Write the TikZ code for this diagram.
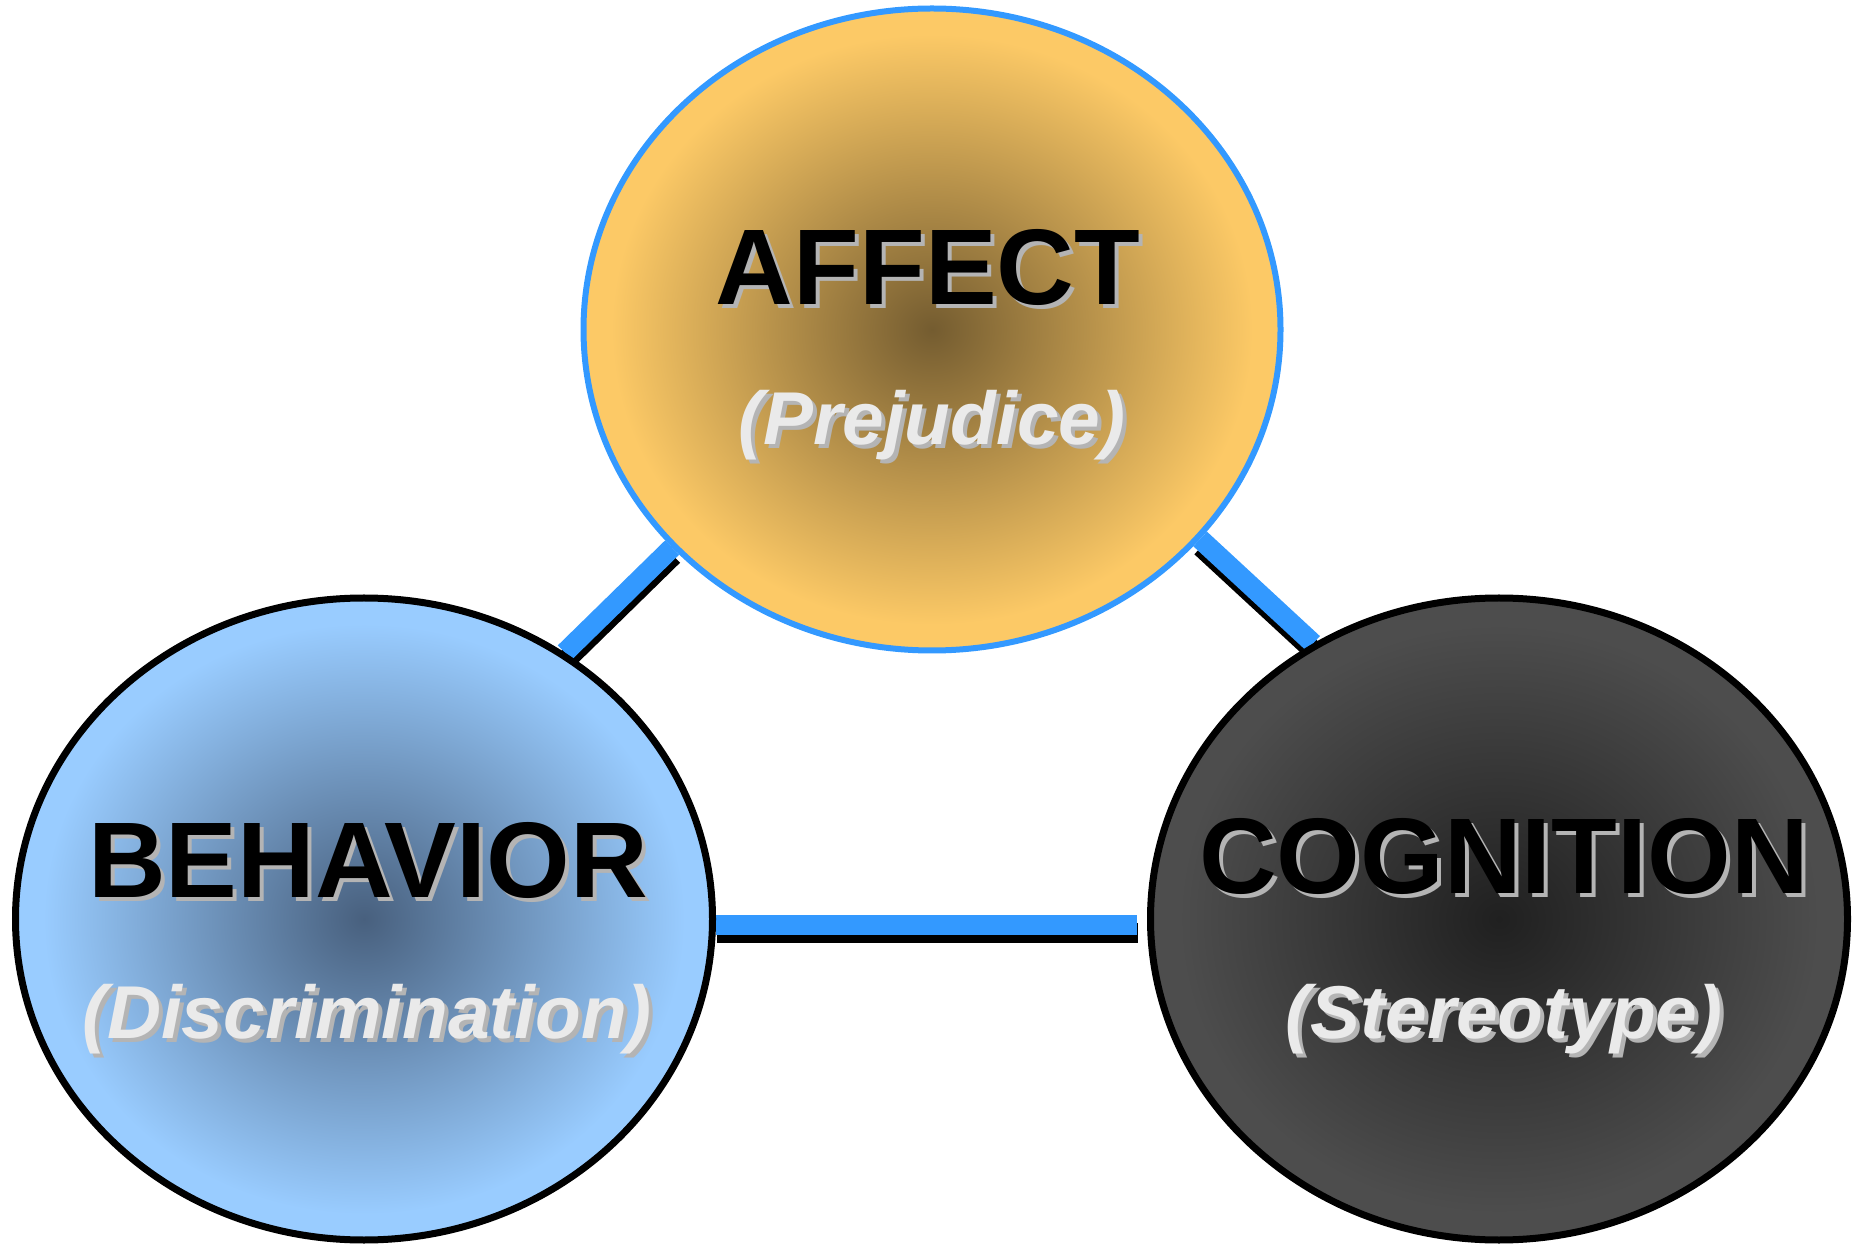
\documentclass[tikz,border=0pt]{standalone}
\usepackage{fontspec}
\setmainfont{Liberation Sans}
\usetikzlibrary{shapes.geometric,backgrounds}

\definecolor{linkblue}{RGB}{51,153,255}
\definecolor{affectrim}{RGB}{252,201,102}
\definecolor{affectcore}{RGB}{116,92,48}
\definecolor{behaviorrim}{RGB}{153,204,255}
\definecolor{behaviorcore}{RGB}{72,96,126}
\definecolor{cognitionrim}{RGB}{77,77,77}
\definecolor{cognitioncore}{RGB}{32,32,32}
\definecolor{textlight}{RGB}{234,234,234}
\definecolor{textshade}{RGB}{180,180,180}

\pgfdeclareradialshading{affectglow}{\pgfpoint{0bp}{0bp}}{color(0bp)=(affectcore); color(23bp)=(affectrim); color(50bp)=(affectrim)}
\pgfdeclareradialshading{behaviorglow}{\pgfpoint{0bp}{0bp}}{color(0bp)=(behaviorcore); color(23bp)=(behaviorrim); color(50bp)=(behaviorrim)}
\pgfdeclareradialshading{cognitionglow}{\pgfpoint{0bp}{0bp}}{color(0bp)=(cognitioncore); color(23bp)=(cognitionrim); color(50bp)=(cognitionrim)}

\begin{document}
\begin{tikzpicture}[
  blob/.style={ellipse, inner sep=0pt, minimum width=6.97cm, minimum height=6.42cm, line width=0.07cm, draw=black},
  link/.style={line width=0.2cm, draw=linkblue},
  linkshade/.style={line width=0.2cm, draw=black, transform canvas={xshift=0.01cm, yshift=-0.08cm}},
  title/.style={anchor=base, font=\titlefont},
  subtitle/.style={anchor=base, font=\subfont, text=textlight},
  dropshade/.style={text=textshade}
]
\newcommand{\titlefont}{\bfseries\fontsize{30.6pt}{36pt}\selectfont}
\newcommand{\subfont}{\bfseries\itshape\fontsize{21.3pt}{25pt}\selectfont}
\newcommand{\castlabel}[4]{%
  \node[#2, dropshade, xshift=0.04cm, yshift=-0.04cm] (#1shadow) at (#3) {#4};
  \node[#2] (#1) at (#3) {#4};
}
\useasboundingbox (0,0) rectangle (18.53,-12.45);

\node[blob, draw=linkblue, line width=0.06cm, shade, shading=affectglow] (affect) at (9.32,-3.295) {};
\node[blob, shade, shading=behaviorglow] (behavior) at (3.64,-9.19) {};
\node[blob, shade, shading=cognitionglow] (cognition) at (14.99,-9.19) {};

\begin{scope}[on background layer]
\draw[linkshade] (behavior.53) -- (affect.220);
\draw[link] (behavior.53) -- (affect.220);
\draw[linkshade] (affect.322) -- (cognition.124);
\draw[link] (affect.322) -- (cognition.124);
\draw[linkshade, shorten >=0.1cm] (behavior.359) -- (cognition.181);
\draw[link, shorten >=0.1cm] (behavior.359) -- (cognition.181);
\end{scope}

\castlabel{affecttitle}{title}{[xshift=-0.04cm, yshift=0.245cm]affect.center}{AFFECT}
\castlabel{affectsub}{subtitle}{[yshift=-1.155cm]affect.center}{(Prejudice)}
\castlabel{behaviortitle}{title}{[xshift=0.04cm, yshift=0.22cm]behavior.center}{BEHAVIOR}
\castlabel{behaviorsub}{subtitle}{[xshift=0.03cm, yshift=-1.19cm]behavior.center}{(Discrimination)}
\castlabel{cognitiontitle}{title}{[xshift=0.05cm, yshift=0.26cm]cognition.center}{COGNITION}
\castlabel{cognitionsub}{subtitle}{[xshift=0.05cm, yshift=-1.19cm]cognition.center}{(Stereotype)}
\end{tikzpicture}
\end{document}
